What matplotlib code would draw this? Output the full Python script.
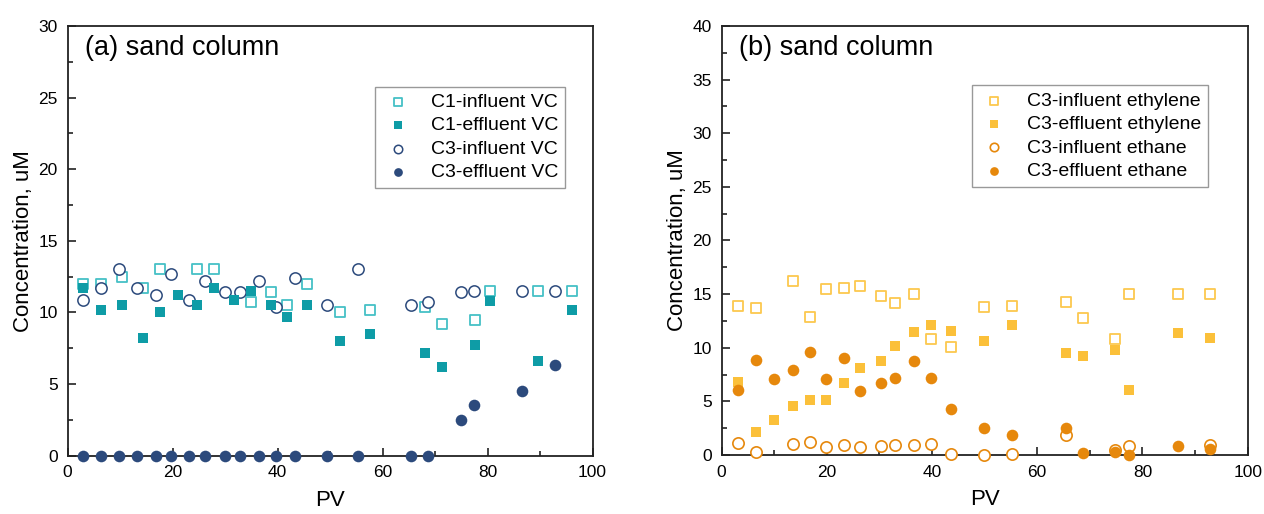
import numpy as np
import matplotlib
matplotlib.use('Agg')
import matplotlib.pyplot as plt
from matplotlib.ticker import MultipleLocator

plt.rcParams['font.family'] = ['Liberation Sans', 'DejaVu Sans']

# (a) vinyl chloride
c1_inf_pv = [2.9, 6.3, 10.3, 14.4, 17.7, 24.6, 27.9, 35.0, 38.7, 41.9, 45.6, 51.9, 57.6, 68.1, 71.4, 77.7, 80.4, 89.6, 96.0]
c1_inf_vc = [12.0, 12.0, 12.5, 11.7, 13.0, 13.0, 13.0, 10.7, 11.4, 10.5, 12.0, 10.0, 10.2, 10.4, 9.2, 9.5, 11.5, 11.5, 11.5]
c1_eff_pv = [2.9, 6.3, 10.3, 14.4, 17.7, 21.1, 24.6, 27.9, 31.7, 35.0, 38.7, 41.9, 45.6, 51.9, 57.6, 68.1, 71.4, 77.7, 80.4, 89.6, 96.0]
c1_eff_vc = [11.7, 10.2, 10.5, 8.2, 10.0, 11.2, 10.5, 11.7, 10.9, 11.5, 10.5, 9.7, 10.5, 8.0, 8.5, 7.2, 6.2, 7.7, 10.8, 6.6, 10.2]
c3_pv = [2.9, 6.3, 9.8, 13.3, 16.8, 19.7, 23.1, 26.2, 30.0, 32.9, 36.4, 39.8, 43.4, 49.5, 55.4, 65.4, 68.6, 74.9, 77.4, 86.6, 92.9]
c3_inf_vc = [10.9, 11.7, 13.0, 11.7, 11.2, 12.7, 10.9, 12.2, 11.4, 11.4, 12.2, 10.4, 12.4, 10.5, 13.0, 10.5, 10.7, 11.4, 11.5, 11.5, 11.5]
c3_eff_vc = [0, 0, 0, 0, 0, 0, 0, 0, 0, 0, 0, 0, 0, 0, 0, 0, 0, 2.5, 3.55, 4.55, 6.3]

# (b) ethylene / ethane
eth_pv = [3.1, 6.5, 9.9, 13.5, 16.9, 19.8, 23.3, 26.4, 30.3, 33.0, 36.5, 39.9, 43.6, 49.8, 55.2, 65.4, 68.7, 74.8, 77.4, 86.7, 92.8]
inf_ethylene_pv = [3.1, 6.5, 13.5, 16.9, 19.8, 23.3, 26.4, 30.3, 33.0, 36.5, 39.9, 43.6, 49.8, 55.2, 65.4, 68.7, 74.8, 77.4, 86.7, 92.8]
inf_ethylene = [13.9, 13.7, 16.2, 12.9, 15.5, 15.6, 15.8, 14.8, 14.2, 15.0, 10.8, 10.1, 13.8, 13.9, 14.3, 12.8, 10.8, 15.0, 15.0, 15.0]
eff_ethylene = [6.8, 2.1, 3.3, 4.6, 5.15, 5.15, 6.7, 8.15, 8.8, 10.2, 11.45, 12.15, 11.55, 10.65, 12.15, 9.5, 9.2, 9.8, 6.1, 11.4, 10.9]
inf_ethane_pv = [3.1, 6.5, 13.5, 16.9, 19.8, 23.3, 26.4, 30.3, 33.0, 36.5, 39.9, 43.6, 49.8, 55.2, 65.4, 74.8, 77.4, 92.8]
inf_ethane = [1.1, 0.3, 1.0, 1.2, 0.75, 0.95, 0.75, 0.85, 0.95, 0.95, 1.0, 0.1, 0.0, 0.1, 1.9, 0.5, 0.85, 0.9]
eff_ethane = [6.05, 8.85, 7.1, 7.9, 9.6, 7.1, 9.05, 5.95, 6.75, 7.2, 8.75, 7.2, 4.25, 2.5, 1.9, 2.5, 0.15, 0.3, 0.0, 0.85, 0.6]

teal_light = '#45c0c6'
teal = '#0e9ca6'
navy = '#2c4a7c'
yel_light = '#fcc84e'
yel = '#fbc03a'
orange = '#e6880c'

fig = plt.figure(figsize=(12.64, 5.14), dpi=100)
ax1 = fig.add_axes([67.5 / 1264, 58.3 / 514, 525 / 1264, 429.7 / 514])
ax2 = fig.add_axes([721.5 / 1264, 59 / 514, 526.2 / 1264, 429 / 514])

ms = 58
ax1.scatter(c1_inf_pv, c1_inf_vc, s=ms, marker='s', facecolors='white', edgecolors=teal_light, linewidths=1.3, label='C1-influent VC', zorder=3, clip_on=False)
ax1.scatter(c1_eff_pv, c1_eff_vc, s=ms, marker='s', color=teal, linewidths=0, label='C1-effluent VC', zorder=4, clip_on=False)
ax1.scatter(c3_pv, c3_inf_vc, s=ms + 8, marker='o', facecolors='white', edgecolors=navy, linewidths=1.1, label='C3-influent VC', zorder=3, clip_on=False)
ax1.scatter(c3_pv, c3_eff_vc, s=ms + 12, marker='o', color=navy, linewidths=0, label='C3-effluent VC', zorder=4, clip_on=False)

ax2.scatter(inf_ethylene_pv, inf_ethylene, s=ms, marker='s', facecolors='white', edgecolors=yel_light, linewidths=1.3, label='C3-influent ethylene', zorder=3, clip_on=False)
ax2.scatter(eth_pv, eff_ethylene, s=ms, marker='s', color=yel, linewidths=0, label='C3-effluent ethylene', zorder=4, clip_on=False)
ax2.scatter(inf_ethane_pv, inf_ethane, s=ms + 8, marker='o', facecolors='white', edgecolors=orange, linewidths=1.2, label='C3-influent ethane', zorder=3, clip_on=False)
ax2.scatter(eth_pv, eff_ethane, s=ms + 12, marker='o', color=orange, linewidths=0, label='C3-effluent ethane', zorder=4, clip_on=False)

for ax, ymax, tag, leg_anchor in [(ax1, 30, '(a) sand column', (0.9476, 0.859)),
                                  (ax2, 40, '(b) sand column', (0.925, 0.862))]:
    ax.set_xlim(0, 100)
    ax.set_ylim(0, ymax)
    ax.xaxis.set_major_locator(MultipleLocator(20))
    ax.xaxis.set_minor_locator(MultipleLocator(10))
    ax.yaxis.set_major_locator(MultipleLocator(5))
    ax.yaxis.set_minor_locator(MultipleLocator(2.5))
    ax.tick_params(which='both', direction='in', labelsize=12.5, top=False, right=False, width=1.2, color='#222222', pad=7)
    ax.tick_params(which='major', length=6)
    ax.tick_params(which='minor', length=3.5)
    for sp in ax.spines.values():
        sp.set_linewidth(1.3)
        sp.set_color('#222222')
    ax.set_xlabel('PV', fontsize=16, labelpad=7)
    ax.set_ylabel('Concentration, uM', fontsize=16, labelpad=3)
    ax.text(0.033, 0.949, tag, transform=ax.transAxes, fontsize=19.5, va='center', ha='left')
    leg = ax.legend(loc='upper right', bbox_to_anchor=leg_anchor, fontsize=14, frameon=True, fancybox=False,
                    edgecolor='#999999', framealpha=1, markerscale=0.75, labelspacing=0.3,
                    handletextpad=0.9, borderpad=0.35, handlelength=1.6, borderaxespad=0)
    leg.get_frame().set_linewidth(1.0)

fig.savefig('out.png', dpi=100)
